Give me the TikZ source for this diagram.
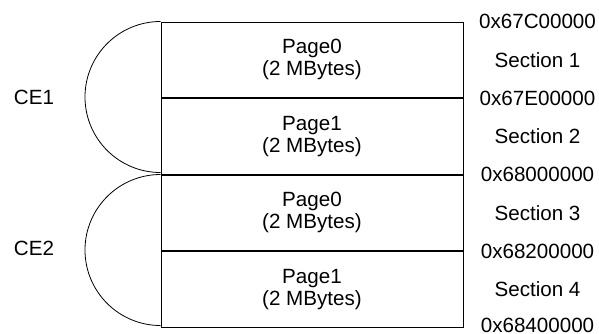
\documentclass[tikz,border=0pt]{standalone}
\usepackage{fontspec}
\setmainfont{Liberation Sans}
\usetikzlibrary{positioning}
\tikzset{
    page/.style={draw, line width=0.5pt, minimum width=151pt, minimum height=37.75pt,
        inner sep=0pt, align=center, font=\fontsize{10.3}{11}\selectfont},
    addr/.style={inner sep=0pt, font=\fontsize{10.3}{12}\selectfont},
    ce/.style={line width=0.4pt}
}

\begin{document}
\begin{tikzpicture}[x=0.5pt, y=-0.5pt]
    \def \H {37.75pt}
    \def \D {37pt}
    \useasboundingbox (0,0) rectangle (599,333);
    % pages
    \node[page] (p1) at (312, 59.75) {Page0\\(2 MBytes)};
    \node[page, below=0pt of p1] (p2) {Page1\\(2 MBytes)};
    \node[page, below=0pt of p2] (p3) {Page0\\(2 MBytes)};
    \node[page, below=0pt of p3] (p4) {Page1\\(2 MBytes)};
    % chip enables
    \draw[ce] (p1.north west) arc[start angle=90, end angle=270, radius=\H];
    \draw[ce] (p3.north west) arc[start angle=90, end angle=270, radius=\H];
    \node[addr] (ce1) at (34, 97.5) {CE1};
    \node[addr] (ce2) at (34, 248.5) {CE2};
    % addresses
    \node[addr] (a0) at ([xshift=\D]p1.north east) {0x67C00000};
    \node[addr] (s1) at ([xshift=\D]p1.east) {Section 1};
    \node[addr] (a1) at ([xshift=\D]p2.north east) {0x67E00000};
    \node[addr] (s2) at ([xshift=\D]p2.east) {Section 2};
    \node[addr] (a2) at ([xshift=\D]p3.north east) {0x68000000};
    \node[addr] (s3) at ([xshift=\D]p3.east) {Section 3};
    \node[addr] (a3) at ([xshift=\D]p4.north east) {0x68200000};
    \node[addr] (s4) at ([xshift=\D]p4.east) {Section 4};
    \node[addr] (a4) at ([xshift=\D, yshift=1pt]p4.south east) {0x68400000};
\end{tikzpicture}
\end{document}
